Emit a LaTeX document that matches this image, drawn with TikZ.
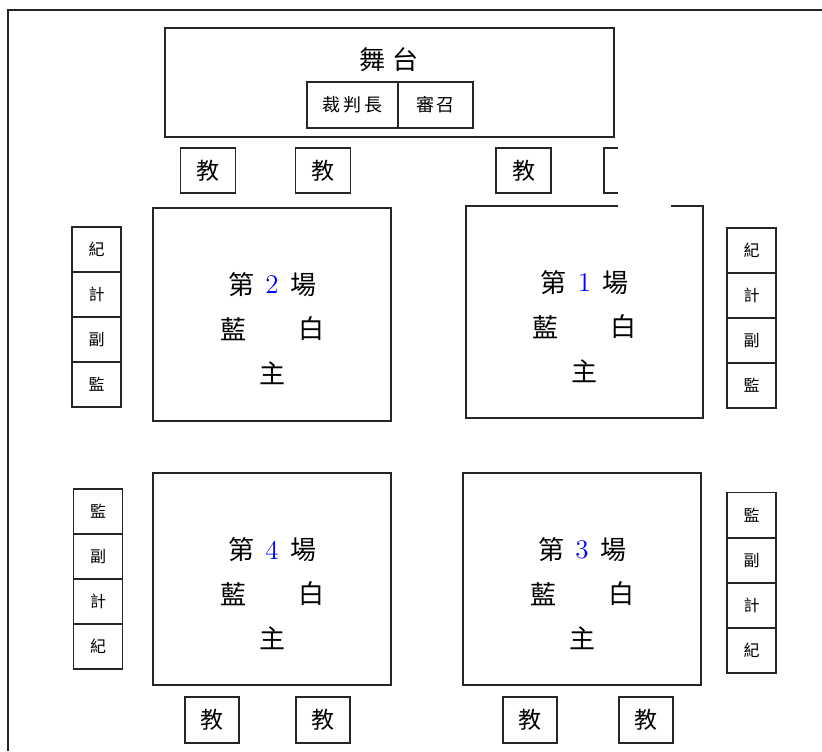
\documentclass[tikz,border=0pt]{standalone}
\usepackage{fontspec}
\newfontfamily\cjk{Noto Sans CJK TC}
\usetikzlibrary{calc,fit}
\tikzset{
  box/.style={draw=black!85, line width=0.65pt, inner sep=0pt, outer sep=0pt},
  big/.style={font=\cjk\fontsize{13}{13}\selectfont, inner sep=0pt},
  num/.style={font=\fontsize{13.5}{13.5}\selectfont, text=blue, inner sep=0pt},
  cell/.style={box, minimum width=24.5pt, minimum height=22.5pt, font=\cjk\fontsize{8}{8}\selectfont},
  coach/.style={box, minimum width=27.5pt, minimum height=22.5pt, font=\cjk\fontsize{11.5}{11.5}\selectfont},
  judge/.style={inner sep=0pt, font=\cjk\fontsize{9}{9}\selectfont},
}
\newcommand\fieldlabels[2]{%
  \node[big] (#1a) at ($(#1.north)+(-31,77)$) {第};
  \node[num] (#1n) at ($(#1.north)+(0,77)$) {#2};
  \node[big] (#1b) at ($(#1.north)+(31,77)$) {場};
  \node[big] (#1c) at ($(#1.north)+(-39,121)$) {藍};
  \node[big] (#1d) at ($(#1.north)+(39,121)$) {白};
  \node[big] (#1e) at ($(#1.north)+(0,165)$) {主};
}
\begin{document}
\begin{tikzpicture}[x=0.5pt,y=-0.5pt]
\useasboundingbox (0,0) rectangle (822,751);
% outer frame
\coordinate (fa) at (8,751);
\coordinate (fb) at (8,10);
\coordinate (fc) at (822,10);
\draw[black!85, line width=0.65pt] (fa) -- (fb) -- (fc);
% stage
\node[box, fit={(165,28) (614,137)}] (stage) {};
\node[inner sep=0pt, font=\cjk\fontsize{13}{13}\selectfont] (stagetext) at (389,60) {舞\hspace{4pt}台};
\node[box, fit={(307,82) (398,128)}] (chief) {};
\node[judge] (chieft) at (chief.center) {裁\hspace{1.5pt}判\hspace{1.5pt}長};
\node[box, fit={(398,82) (473,128)}] (conv) {};
\node[judge] (convt) at (conv.center) {審\hspace{1.5pt}召};
% top coach boxes
\node[coach] (t1) at (208,170.5) {教};
\node[coach] (t2) at (323,170.5) {教};
\node[coach] (t3) at (523.5,170.5) {教};
\node[coach] (t4) at (631.5,170.5) {};
% fields
\node[box, fit={(153,208) (391,421)}] (f2) {};
\node[box, fit={(466,206) (703,418)}] (f1) {};
\node[box, fit={(153,473) (391,685)}] (f4) {};
\node[box, fit={(463,473) (701,685)}] (f3) {};
% white cover over corner
\fill[white] (618,141) rectangle (671,209);
\fieldlabels{f2}{2}
\fieldlabels{f1}{1}
\fieldlabels{f4}{4}
\fieldlabels{f3}{3}
% left column field 2
\node[cell] (l2a) at (96.5,249.5) {紀};
\node[cell] (l2b) at (96.5,294.5) {計};
\node[cell] (l2c) at (96.5,339.5) {副};
\node[cell] (l2d) at (96.5,384.5) {監};
% right column field 1
\node[cell] (r1a) at (751.5,250.5) {紀};
\node[cell] (r1b) at (751.5,295.5) {計};
\node[cell] (r1c) at (751.5,340.5) {副};
\node[cell] (r1d) at (751.5,385.5) {監};
% left column field 4
\node[cell] (l4a) at (98,511.5) {監};
\node[cell] (l4b) at (98,556.5) {副};
\node[cell] (l4c) at (98,601.5) {計};
\node[cell] (l4d) at (98,646.5) {紀};
% right column field 3
\node[cell] (r3a) at (751.5,515) {監};
\node[cell] (r3b) at (751.5,560.5) {副};
\node[cell] (r3c) at (751.5,605.5) {計};
\node[cell] (r3d) at (751.5,650.5) {紀};
% bottom coach boxes
\node[coach, minimum width=27pt, minimum height=23pt] (b1) at (212,720) {教};
\node[coach, minimum width=27pt, minimum height=23pt] (b2) at (323,720) {教};
\node[coach, minimum width=27pt, minimum height=23pt] (b3) at (530,720) {教};
\node[coach, minimum width=27pt, minimum height=23pt] (b4) at (646,720) {教};
\end{tikzpicture}
\end{document}
